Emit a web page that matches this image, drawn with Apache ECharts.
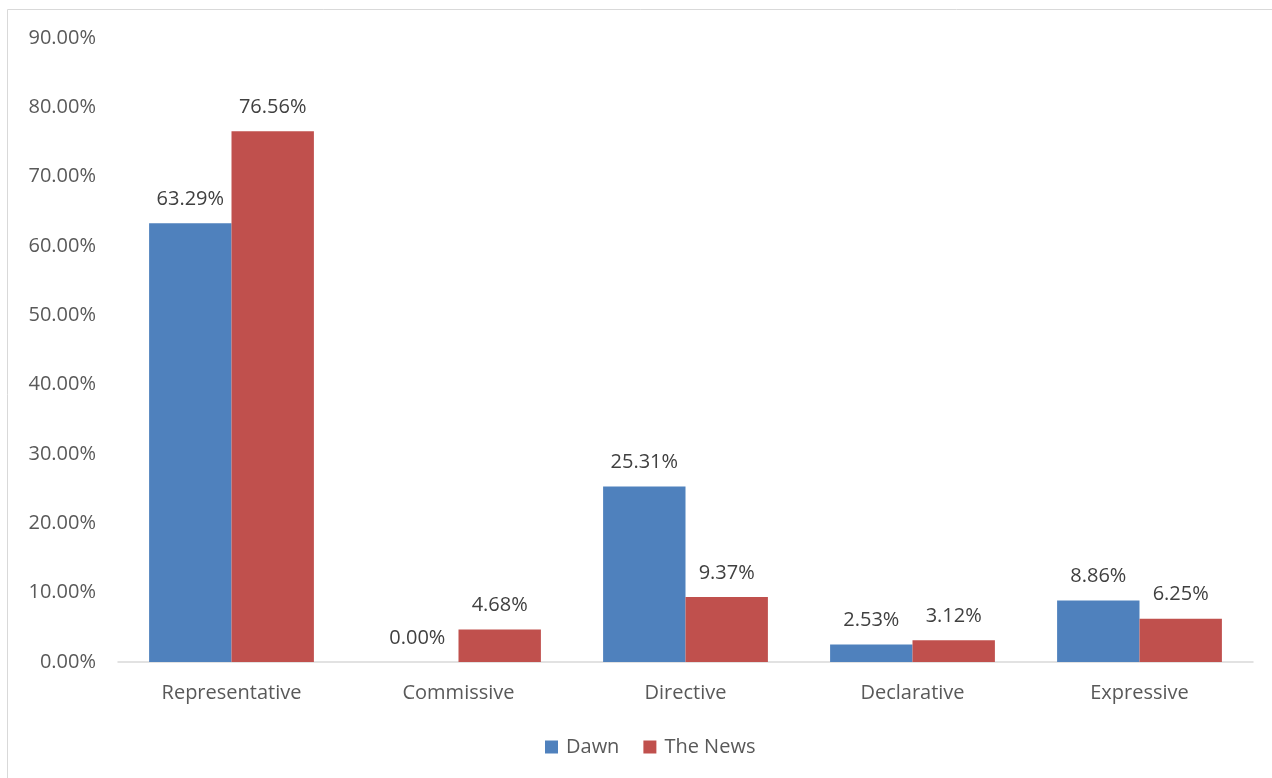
<!DOCTYPE html>
<html>
<head>
<meta charset="utf-8">
<script src="https://cdn.jsdelivr.net/npm/echarts@6/dist/echarts.min.js"></script>
<style>html,body{margin:0;padding:0;background:#fff}#c{width:1272px;height:778px}</style>
</head>
<body>
<div id="c"></div>
<script>
const categories = ['Representative', 'Commissive', 'Directive', 'Declarative', 'Expressive'];
const dawn = [63.29, 0.00, 25.31, 2.53, 8.86];
const theNews = [76.56, 4.68, 9.37, 3.12, 6.25];
const seriesNames = ['Dawn', 'The News'];

const chart = echarts.init(document.getElementById('c'));
const font = 'Open Sans, Liberation Sans, sans-serif';
const label = {
  show: true, position: 'top', distance: 14,
  formatter: p => p.value.toFixed(2) + '%',
  color: '#404040', fontSize: 20, fontFamily: font
};
chart.setOption({
  animation: false,
  graphic: [{
    type: 'rect', shape: {x: 7.5, y: 9.5, width: 1300, height: 800},
    style: {fill: 'none', stroke: '#d9d9d9', lineWidth: 1}, z: -1
  }],
  grid: {left: 118, right: 19, top: 38, bottom: 116},
  legend: {
    bottom: 16, left: 540, itemWidth: 13, itemHeight: 13, itemGap: 24,
    icon: 'rect',
    textStyle: {color: '#595959', fontSize: 20, fontFamily: font, padding: [0, 0, 0, 3]},
    data: seriesNames
  },
  xAxis: {
    type: 'category', data: categories,
    axisLine: {lineStyle: {color: '#d9d9d9', width: 1.5}},
    axisTick: {show: false},
    axisLabel: {color: '#595959', fontSize: 20, fontFamily: font, margin: 21}
  },
  yAxis: {
    type: 'value', min: 0, max: 90, interval: 10,
    splitLine: {show: false},
    axisLine: {show: false}, axisTick: {show: false},
    axisLabel: {color: '#595959', fontSize: 20, fontFamily: font, margin: 22,
      formatter: v => v.toFixed(2) + '%'}
  },
  series: [
    {name: seriesNames[0], type: 'bar', data: dawn, barWidth: '36.3%', barGap: '0%',
     itemStyle: {color: '#4f81bd'}, label: label},
    {name: seriesNames[1], type: 'bar', data: theNews, barWidth: '36.3%', barGap: '0%',
     itemStyle: {color: '#c0504d'}, label: label}
  ]
});
</script>
</body>
</html>
